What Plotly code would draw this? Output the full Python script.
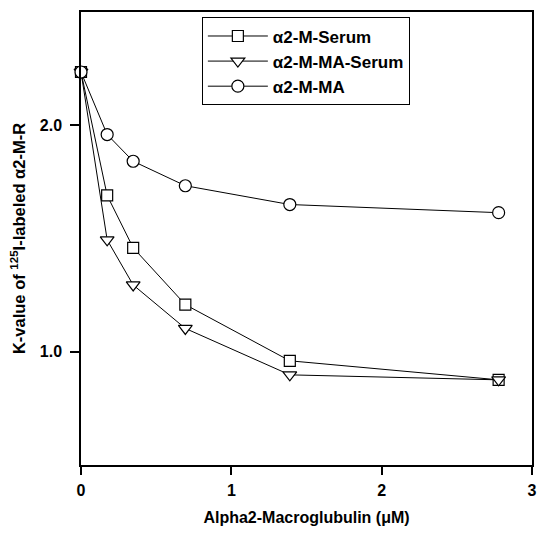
import plotly.graph_objects as go

x_vals = [0, 0.174, 0.347, 0.694, 1.389, 2.778]
serum = [2.235, 1.690, 1.459, 1.208, 0.960, 0.876]
ma_serum = [2.235, 1.494, 1.295, 1.103, 0.898, 0.876]
ma = [2.235, 1.959, 1.841, 1.733, 1.650, 1.614]

names = ["\u03b12-M-Serum", "\u03b12-M-MA-Serum", "\u03b12-M-MA"]
symbols = ["square", "triangle-down", "circle"]
sizes = [11, 12, 12]
series = [serum, ma_serum, ma]

FONT = "Liberation Sans, Arial, sans-serif"

fig = go.Figure()
for nm, sym, sz, ys in zip(names, symbols, sizes, series):
    fig.add_trace(go.Scatter(
        x=x_vals, y=ys, name=nm, mode="lines+markers",
        line=dict(color="black", width=1),
        marker=dict(symbol=sym, size=sz, color="white",
                    line=dict(color="black", width=1.2)),
        cliponaxis=False,
    ))

fig.update_layout(
    width=542, height=533,
    margin=dict(l=81, r=5, t=12, b=68),
    paper_bgcolor="white", plot_bgcolor="white",
    font=dict(family=FONT, size=16, color="black"),
    showlegend=True,
    legend=dict(
        x=0.268, y=0.988, xanchor="left", yanchor="top",
        bordercolor="black", borderwidth=1, bgcolor="white",
        font=dict(family=FONT, size=17, color="black", weight="bold"),
        tracegroupgap=0, itemwidth=60,
    ),
    xaxis=dict(
        range=[0, 3], tickvals=[0, 1, 2, 3], ticktext=["0", "1", "2", "3"],
        showline=True, linecolor="black", linewidth=1.5, mirror=True,
        ticks="outside", ticklen=8, tickcolor="black", tickwidth=1.5,
        ticklabelstandoff=2,
        showgrid=False, zeroline=False,
        tickfont=dict(family=FONT, size=16, weight="bold"),
        title=dict(text="Alpha2-Macroglubulin (\u03bcM)", standoff=14,
                   font=dict(family=FONT, size=16, weight="bold")),
    ),
    yaxis=dict(
        range=[0.5, 2.5], tickvals=[1.0, 2.0], ticktext=["1.0", "2.0"],
        showline=True, linecolor="black", linewidth=1.5, mirror=True,
        ticks="outside", ticklen=9, tickcolor="black", tickwidth=1.5,
        ticklabelstandoff=5,
        showgrid=False, zeroline=False,
        tickfont=dict(family=FONT, size=16, weight="bold"),
        title=dict(text="K-value of <sup>125</sup>I-labeled \u03b12-M-R", standoff=10,
                   font=dict(family=FONT, size=16.5, weight="bold")),
    ),
)

fig.write_html("out.html")
